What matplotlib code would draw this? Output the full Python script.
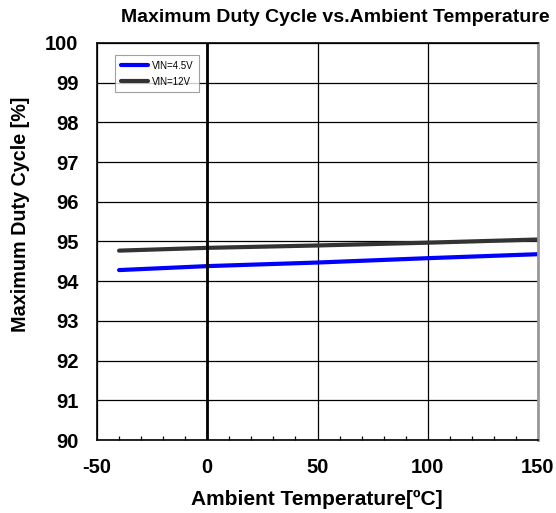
import matplotlib.pyplot as plt
from matplotlib.ticker import MultipleLocator

temps = [-40, 0, 50, 100, 150]
duty_45v = [94.28, 94.38, 94.47, 94.58, 94.68]
duty_12v = [94.77, 94.84, 94.90, 94.97, 95.05]

x_ticks = [-50, 0, 50, 100, 150]
y_ticks = [90, 91, 92, 93, 94, 95, 96, 97, 98, 99, 100]

plt.rcParams["font.family"] = ["Liberation Sans", "DejaVu Sans"]
plt.rcParams["axes.unicode_minus"] = False

fig = plt.figure(figsize=(5.56, 5.13), dpi=100)
ax = fig.add_axes([0.1745, 0.1423, 0.7931, 0.7739])

ax.plot(temps, duty_45v, color="#0000ff", lw=3, label="VIN=4.5V", solid_capstyle="round")
ax.plot(temps, duty_12v, color="#333333", lw=3, label="VIN=12V", solid_capstyle="round")

ax.set_xlim(-50, 150)
ax.set_ylim(90, 100)
ax.set_xticks(x_ticks)
ax.set_yticks(y_ticks)
ax.xaxis.set_minor_locator(MultipleLocator(10))
ax.grid(True, which="major", color="black", lw=0.9)
ax.axvline(0, color="black", lw=2)
ax.set_axisbelow(True)
for s in ax.spines.values():
    s.set_color("black")
    s.set_linewidth(1.2)
ax.spines["right"].set_color("#999999")
ax.spines["right"].set_linewidth(2)

ax.tick_params(which="major", length=0, labelsize=14.5)
ax.tick_params(axis="x", which="major", pad=13)
ax.tick_params(axis="y", which="major", pad=13.5)
ax.tick_params(axis="x", which="minor", direction="in", length=3, width=0.9)
for lbl in ax.get_xticklabels() + ax.get_yticklabels():
    lbl.set_fontweight("bold")

fig.text(0.603, 0.966, "Maximum Duty Cycle vs.Ambient Temperature", fontsize=14,
         fontweight="bold", ha="center", va="center")
fig.text(0.569, 0.027, "Ambient Temperature[ºC]", fontsize=15, fontweight="bold",
         ha="center", va="center")
fig.text(0.036, 0.582, "Maximum Duty Cycle [%]", fontsize=14.2, fontweight="bold",
         ha="center", va="center", rotation=90)

leg = ax.legend(loc="upper left", bbox_to_anchor=(0.041, 0.97), fontsize=7,
                frameon=True, fancybox=False, edgecolor="#888888",
                handlelength=2.8, handletextpad=0.35, borderpad=0.6,
                labelspacing=0.6, borderaxespad=0)
leg.get_frame().set_linewidth(0.8)

fig.savefig("out.png", dpi=100)
